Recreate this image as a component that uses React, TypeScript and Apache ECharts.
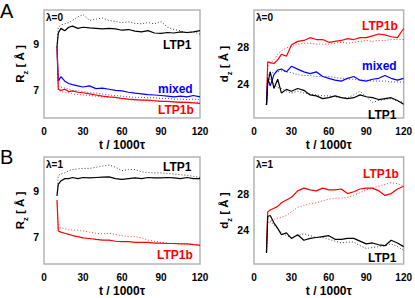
import React, { useEffect, useRef } from "react";
import * as echarts from "echarts";

const T = [10, 11, 13, 16, 19, 22, 26, 30, 35, 40, 45, 50, 55, 60, 65, 70, 75, 80, 85, 90, 95, 100, 105, 110, 115, 120];
const xTicks = [0, 30, 60, 90, 120];
const rzTicks = [7, 9];
const dzTicks = [24, 28];

// Panel A left: R_z, lambda=0
const aRzLTP1 = [8.9, 9.5, 9.7, 9.6, 9.75, 9.8, 9.7, 9.75, 9.72, 9.7, 9.68, 9.7, 9.68, 9.62, 9.65, 9.58, 9.55, 9.6, 9.5, 9.48, 9.52, 9.5, 9.55, 9.52, 9.55, 9.6];
const aRzLTP1Dot = [8.9, 9.75, 9.85, 9.9, 9.95, 10.05, 10.2, 10.3, 10.05, 10.1, 10.15, 10.05, 10.0, 9.95, 9.98, 9.92, 9.9, 9.95, 9.9, 10.0, 9.75, 9.65, 9.6, 9.5, 9.55, 9.45];
const aRzMixed = [8.9, 7.4, 7.6, 7.4, 7.3, 7.25, 7.2, 7.15, 7.2, 7.08, 7.1, 7.05, 7.0, 6.98, 6.92, 6.88, 6.85, 6.82, 6.8, 6.78, 6.75, 6.72, 6.75, 6.72, 6.78, 6.72];
const aRzMixedDot = [8.9, 7.2, 7.15, 7.1, 7.05, 7.0, 6.98, 6.95, 6.9, 6.88, 6.85, 6.8, 6.78, 6.75, 6.72, 6.7, 6.7, 6.68, 6.68, 6.65, 6.65, 6.62, 6.62, 6.6, 6.62, 6.6];
const aRzLTP1b = [8.9, 7.05, 7.0, 7.05, 6.95, 6.98, 6.92, 6.9, 6.85, 6.8, 6.75, 6.72, 6.7, 6.65, 6.62, 6.6, 6.58, 6.58, 6.55, 6.52, 6.52, 6.5, 6.48, 6.48, 6.46, 6.44];
const aRzLTP1bDot = [8.9, 7.0, 6.95, 6.92, 6.9, 6.85, 6.82, 6.8, 6.78, 6.75, 6.72, 6.7, 6.68, 6.65, 6.6, 6.58, 6.58, 6.55, 6.55, 6.52, 6.52, 6.5, 6.5, 6.5, 6.48, 6.5];

// Panel A right: d_z, lambda=0
const aDzLTP1b = [21.7, 26.4, 26.3, 26.2, 26.6, 27.2, 27.0, 28.2, 28.6, 28.7, 29.0, 28.8, 28.8, 28.5, 28.6, 28.7, 28.9, 28.8, 29.0, 29.0, 29.2, 29.4, 29.3, 29.1, 29.0, 30.0];
const aDzLTP1bDot = [21.7, 25.9, 26.2, 26.6, 27.2, 27.6, 27.9, 28.0, 28.3, 28.4, 28.4, 28.3, 28.3, 28.3, 28.4, 28.5, 28.4, 28.5, 28.6, 28.7, 28.6, 28.7, 28.7, 28.8, 28.8, 28.8];
const aDzMixed = [21.7, 24.6, 23.8, 25.0, 25.5, 25.6, 25.3, 25.9, 25.6, 25.3, 25.1, 25.3, 24.8, 24.6, 24.4, 24.3, 24.6, 24.8, 24.4, 24.3, 24.5, 24.6, 24.9, 24.6, 24.4, 24.6];
const aDzMixedDot = [21.7, 24.8, 25.3, 25.2, 25.3, 25.4, 25.3, 25.2, 25.0, 24.9, 24.9, 24.8, 24.8, 24.8, 24.7, 24.6, 24.5, 24.5, 24.4, 24.4, 24.3, 24.3, 24.3, 24.2, 24.2, 24.2];
const aDzLTP1 = [21.7, 24.0, 25.3, 23.5, 24.5, 23.0, 23.4, 23.2, 23.5, 23.3, 22.8, 22.7, 22.4, 22.5, 22.7, 22.5, 22.4, 22.5, 22.8, 22.6, 22.5, 22.3, 22.4, 22.5, 22.2, 21.8];
const aDzLTP1Dot = [21.7, 24.4, 24.5, 24.0, 23.6, 23.5, 23.2, 23.0, 23.2, 23.0, 22.9, 22.8, 22.7, 22.7, 22.6, 22.5, 22.5, 22.8, 23.2, 22.6, 22.0, 22.2, 22.3, 22.4, 22.1, 22.0];

// Panel B left: R_z, lambda=1
const bRzLTP1 = [8.8, 9.3, 9.45, 9.55, 9.55, 9.6, 9.55, 9.6, 9.58, 9.6, 9.62, 9.63, 9.55, 9.52, 9.55, 9.58, 9.55, 9.6, 9.58, 9.58, 9.6, 9.58, 9.55, 9.6, 9.55, 9.55];
const bRzLTP1Dot = [8.8, 9.7, 9.75, 9.8, 9.9, 9.95, 9.98, 10.0, 10.0, 10.05, 10.1, 10.15, 10.05, 9.9, 9.95, 9.95, 9.85, 9.82, 9.8, 9.8, 9.78, 9.75, 9.72, 9.7, 9.65, 9.6];
const bRzLTP1b = [8.6, 7.25, 7.2, 7.15, 7.1, 7.05, 7.0, 6.95, 6.92, 6.88, 6.85, 6.85, 6.8, 6.78, 6.78, 6.75, 6.75, 6.75, 6.72, 6.72, 6.7, 6.7, 6.68, 6.68, 6.65, 6.63];
const bRzLTP1bDot = [8.6, 7.35, 7.4, 7.35, 7.3, 7.3, 7.28, 7.25, 7.2, 7.15, 7.12, 7.15, 7.1, 7.05, 7.0, 7.0, 6.95, 6.85, 6.8, 6.75, 6.72, 6.7, 6.68, 6.68, 6.65, 6.6];

// Panel B right: d_z, lambda=1
const bDzLTP1b = [21.6, 26.0, 26.2, 26.4, 26.6, 27.0, 27.3, 27.6, 28.3, 28.6, 28.4, 28.3, 28.6, 28.4, 28.4, 28.5, 28.0, 28.2, 28.5, 28.6, 28.6, 28.3, 27.8, 28.0, 28.5, 28.8];
const bDzLTP1bDot = [21.6, 24.6, 25.0, 25.2, 25.3, 25.4, 25.6, 26.0, 26.5, 26.7, 26.9, 27.0, 27.2, 27.4, 27.5, 27.5, 27.6, 27.8, 28.1, 28.4, 28.6, 28.8, 29.0, 29.2, 29.1, 28.8];
const bDzLTP1 = [21.5, 25.5, 25.6, 24.8, 24.2, 23.5, 23.7, 23.1, 23.5, 22.9, 23.1, 23.2, 23.3, 23.4, 23.0, 23.0, 23.1, 23.1, 22.8, 22.5, 22.6, 22.4, 22.3, 22.9, 22.6, 22.2];
const bDzLTP1Dot = [21.5, 24.8, 25.0, 24.6, 24.2, 23.7, 23.4, 23.2, 23.4, 23.6, 23.4, 23.2, 23.2, 23.0, 22.8, 22.6, 22.7, 22.7, 22.3, 22.0, 22.1, 22.2, 22.3, 22.5, 22.2, 21.8];

const BLACK = "#000000";
const RED = "#ff0000";
const BLUE = "#0000ff";
const FONT = "Liberation Sans, Arial, sans-serif";

function pairs(vals: number[]) {
  return vals.map((v, i) => [T[i], v]);
}

function line(idx: number, vals: number[], color: string, dotted: boolean) {
  return {
    type: "line",
    xAxisIndex: idx,
    yAxisIndex: idx,
    data: pairs(vals),
    showSymbol: false,
    symbol: "none",
    z: dotted ? 2 : 3,
    lineStyle: {
      color,
      width: dotted ? 1 : 1.2,
      type: dotted ? [1, 2] : "solid",
      opacity: dotted ? 0.75 : 1,
    },
  };
}

export default function App() {
  const ref = useRef<HTMLDivElement>(null);
  useEffect(() => {
    document.body.style.margin = "0";
    const chart = echarts.init(ref.current!, null, { renderer: "svg" });
    const grids = [
      { left: 44, top: 10, width: 156, height: 108 },
      { left: 254, top: 10, width: 151, height: 108 },
      { left: 44, top: 157, width: 156, height: 108 },
      { left: 254, top: 157, width: 151, height: 108 },
    ].map((g) => ({ ...g, show: true, borderColor: "#b4b4b4", borderWidth: 1.5, backgroundColor: "transparent" }));

    const xAxis = [0, 1, 2, 3].map((i) => ({
      type: "value",
      gridIndex: i,
      min: 0,
      max: 120,
      interval: 30,
      axisLine: { show: false },
      axisTick: { show: false },
      splitLine: { show: false },
      axisLabel: {
        customValues: xTicks,
        color: "#000",
        fontFamily: FONT,
        fontWeight: "bold",
        fontSize: 10,
        margin: 8,
      },
      name: "t / 1000τ",
      nameLocation: "middle",
      nameGap: 21,
      nameTextStyle: { color: "#000", fontFamily: FONT, fontWeight: "bold", fontSize: 12 },
    }));

    const rich = {
      b: { fontFamily: FONT, fontWeight: "bold", fontSize: 11.5, color: "#000" },
      s: { fontFamily: FONT, fontWeight: "bold", fontSize: 7.5, color: "#000", verticalAlign: "bottom", padding: [0, 0, -3, 0] },
    };
    const yAxis = [0, 1, 2, 3].map((i) => {
      const isRz = i % 2 === 0;
      return {
        type: "value",
        gridIndex: i,
        min: isRz ? 5.8 : 20.3,
        max: isRz ? 10.5 : 32,
        axisLine: { show: false },
        axisTick: { show: false },
        splitLine: { show: false },
        axisLabel: {
          customValues: isRz ? rzTicks : dzTicks,
          color: "#000",
          fontFamily: FONT,
          fontWeight: "bold",
          fontSize: 10.5,
          margin: 5,
        },
        name: isRz ? "{b|R}{s|z}{b| [ Å ]}" : "{b|d}{s|z}{b| [ Å ]}",
        nameLocation: "middle",
        nameRotate: 90,
        nameGap: isRz ? 18 : 20,
        nameTextStyle: { rich },
      };
    });

    const series = [
      line(0, aRzLTP1Dot, BLACK, true),
      line(0, aRzMixedDot, BLUE, true),
      line(0, aRzLTP1bDot, RED, true),
      line(0, aRzLTP1, BLACK, false),
      line(0, aRzMixed, BLUE, false),
      line(0, aRzLTP1b, RED, false),
      line(1, aDzLTP1bDot, RED, true),
      line(1, aDzMixedDot, BLUE, true),
      line(1, aDzLTP1Dot, BLACK, true),
      line(1, aDzLTP1b, RED, false),
      line(1, aDzMixed, BLUE, false),
      line(1, aDzLTP1, BLACK, false),
      line(2, bRzLTP1Dot, BLACK, true),
      line(2, bRzLTP1bDot, RED, true),
      line(2, bRzLTP1, BLACK, false),
      line(2, bRzLTP1b, RED, false),
      line(3, bDzLTP1bDot, RED, true),
      line(3, bDzLTP1Dot, BLACK, true),
      line(3, bDzLTP1b, RED, false),
      line(3, bDzLTP1, BLACK, false),
    ];

    const lab = (text: string, x: number, y: number, fill: string, size = 12) => ({
      type: "text",
      x,
      y,
      z: 10,
      style: { text, fill, font: `bold ${size}px ${FONT}`, textAlign: "left", textVerticalAlign: "middle" },
    });

    const graphic = [
      { type: "text", x: 0, y: 1, style: { text: "A", fill: "#000", font: `20px ${FONT}` } },
      { type: "text", x: 0, y: 147, style: { text: "B", fill: "#000", font: `20px ${FONT}` } },
      lab("λ=0", 46, 17, "#000", 10),
      lab("λ=0", 256, 17, "#000", 10),
      lab("λ=1", 46, 164, "#000", 10),
      lab("λ=1", 256, 164, "#000", 10),
      lab("LTP1", 163, 45, BLACK),
      lab("mixed", 158, 89, BLUE),
      lab("LTP1b", 158, 110, RED),
      lab("LTP1b", 362, 26, RED),
      lab("mixed", 362, 66, BLUE),
      lab("LTP1", 368, 115, BLACK),
      lab("LTP1", 163, 167, BLACK),
      lab("LTP1b", 157, 255, RED),
      lab("LTP1b", 363, 174, RED),
      lab("LTP1", 368, 258, BLACK),
    ];

    chart.setOption({
      animation: false,
      backgroundColor: "#ffffff",
      grid: grids,
      xAxis,
      yAxis,
      series,
      graphic,
    });
    return () => chart.dispose();
  }, []);
  return <div ref={ref} style={{ width: 415, height: 298, position: "absolute", left: 0, top: 0 }} />;
}
